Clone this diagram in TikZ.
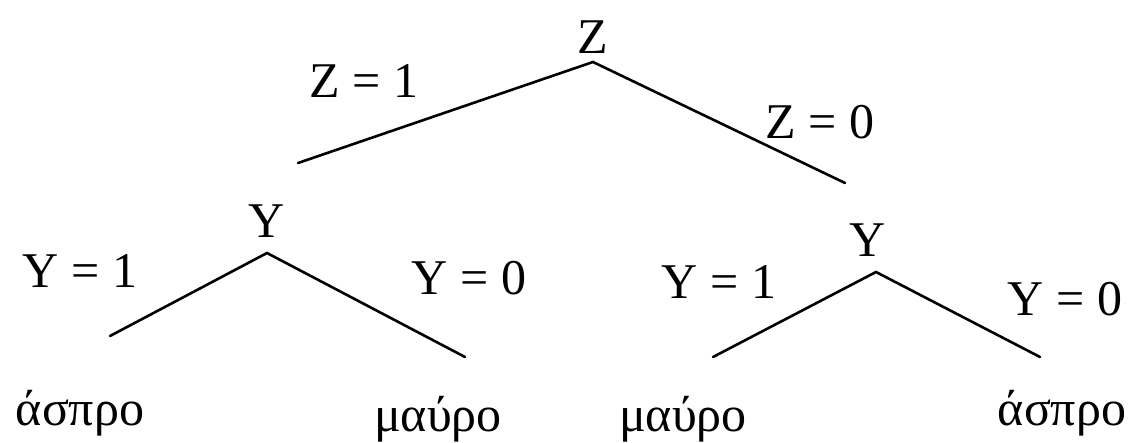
\documentclass[tikz,border=0pt]{standalone}
\usepackage{fontspec}
\setmainfont{Liberation Serif}
\begin{document}
\begin{tikzpicture}[x=1pt,y=-1pt,
  lbl/.style={anchor=base,inner sep=0pt,font=\fontsize{50}{58}\selectfont},
  branch/.style={line width=2.6pt,black,line cap=round}]
\useasboundingbox (0,0) rectangle (1145,442);
% labels
\node[lbl] (z) at (593,53) {Z};
\node[lbl] (z1) at (364,97) {Z = 1};
\node[lbl] (z0) at (820,138) {Z = 0};
\node[lbl] (yl) at (267,237) {Y};
\node[lbl] (yr) at (868,256) {Y};
\node[lbl] (yl1) at (80,287) {Y = 1};
\node[lbl] (yl0) at (469,294) {Y = 0};
\node[lbl] (yr1) at (719,298) {Y = 1};
\node[lbl] (yr0) at (1065,315) {Y = 0};
\node[lbl] (a1) at (80,425) {άσπρο};
\node[lbl] (m1) at (438,431) {μαύρο};
\node[lbl] (m2) at (683,431) {μαύρο};
\node[lbl] (a2) at (1062,425) {άσπρο};
% branch points
\coordinate (zt) at (593,62);
\coordinate (zl) at (298,163);
\coordinate (zr) at (845,183);
\coordinate (ylt) at (267,253);
\coordinate (yll) at (110,336);
\coordinate (ylr) at (465,357);
\coordinate (yrt) at (876,272);
\coordinate (yrl) at (713,357);
\coordinate (yrr) at (1040,357);
\draw[branch] (zl) -- (zt) -- (zr);
\draw[branch] (yll) -- (ylt) -- (ylr);
\draw[branch] (yrl) -- (yrt) -- (yrr);
\end{tikzpicture}
\end{document}
